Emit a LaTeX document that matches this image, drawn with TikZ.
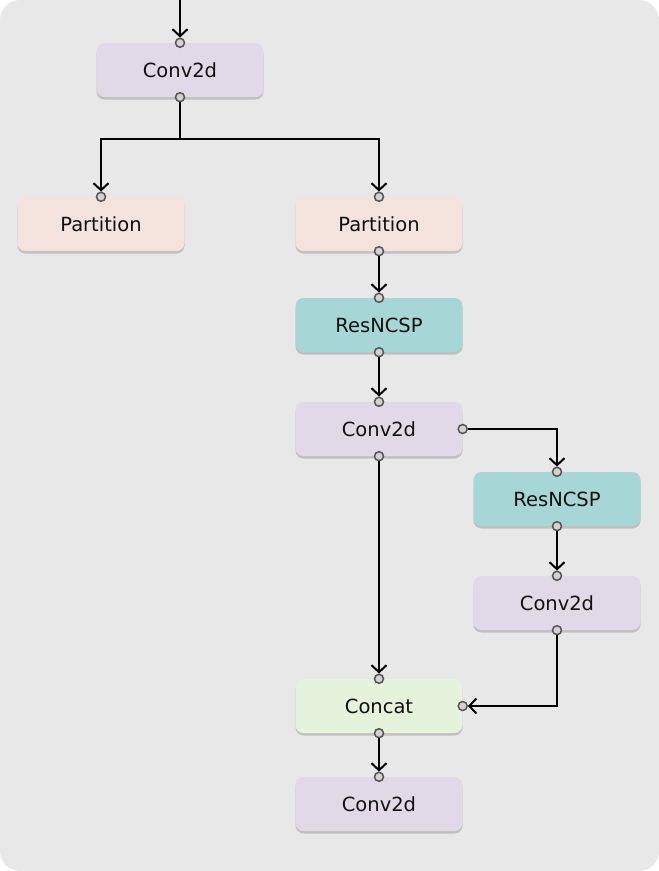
\documentclass[tikz,border=0pt]{standalone}
\usepackage{fontspec}
\setmainfont{DejaVu Sans}
\usepackage{tikz}
\usetikzlibrary{arrows.meta,calc,shadows}

\definecolor{bgpanel}{HTML}{E8E8E8}
\definecolor{convfill}{HTML}{E1D9E7}
\definecolor{partfill}{HTML}{F3E3DC}
\definecolor{resfill}{HTML}{A7D6D7}
\definecolor{catfill}{HTML}{E6F3DC}
\definecolor{portfill}{HTML}{D2D2D2}
\definecolor{portline}{HTML}{555555}
\definecolor{txt}{HTML}{111111}

\tikzset{
  block/.style={rectangle, rounded corners=8pt, minimum width=167pt, minimum height=54pt,
    text=txt, font=\fontsize{19.5}{22}\selectfont,
    drop shadow={shadow xshift=0pt, shadow yshift=-2.5pt, opacity=0.3, fill=black!60}},
  conv/.style={block, fill=convfill},
  part/.style={block, fill=partfill},
  res/.style={block, fill=resfill},
  cat/.style={block, fill=catfill},
  port/.style={circle, draw=portline, fill=portfill, line width=1.5pt, inner sep=0pt, minimum size=9pt},
  flow/.style={draw=black, line width=2pt, -{Straight Barb[length=7pt,width=15pt,line width=2pt]}}
}

\begin{document}
\begin{tikzpicture}[x=1pt,y=-1pt]
            \useasboundingbox (0,0) rectangle (659,871);
            \fill[white] (0,0) rectangle (659,871);
            \fill[bgpanel, rounded corners=20pt] (0,0) rectangle (659,871);
            % blocks
            \node[conv] (Conv0) at (180,70) {Conv2d};
            \node[part] (PartL) at (101,224) {Partition};
            \node[part] (PartR) at (379,224) {Partition};
            \node[res] (Res1) at (379,325) {ResNCSP};
            \node[conv] (Conv1) at (379,429) {Conv2d};
            \node[res] (Res2) at (557,499) {ResNCSP};
            \node[conv] (Conv2) at (557,603) {Conv2d};
            \node[cat] (Cat) at (379,706) {Concat};
            \node[conv] (Conv3) at (379,804) {Conv2d};
            % ports
            \node[port] (Conv0in) at (Conv0.north) {};
            \node[port] (Conv0out) at (Conv0.south) {};
            \node[port] (PartLin) at (PartL.north) {};
            \node[port] (PartRin) at (PartR.north) {};
            \node[port] (PartRout) at (PartR.south) {};
            \node[port] (Res1in) at (Res1.north) {};
            \node[port] (Res1out) at (Res1.south) {};
            \node[port] (Conv1in) at (Conv1.north) {};
            \node[port] (Conv1out) at (Conv1.south) {};
            \node[port] (Conv1side) at (Conv1.east) {};
            \node[port] (Res2in) at (Res2.north) {};
            \node[port] (Res2out) at (Res2.south) {};
            \node[port] (Conv2in) at (Conv2.north) {};
            \node[port] (Conv2out) at (Conv2.south) {};
            \node[port] (Catin) at (Cat.north) {};
            \node[port] (Catside) at (Cat.east) {};
            \node[port] (Catout) at (Cat.south) {};
            \node[port] (Conv3in) at (Conv3.north) {};
            % connectors
            \coordinate (src) at ($(Conv0in)+(0,-50)$);
            \coordinate (split) at ($(Conv0out)+(0,42)$);
            \draw[flow] (src) -- (Conv0in);
            \draw[line width=2pt] (Conv0out) -- (split);
            \draw[flow] (split) -| (PartLin);
            \draw[flow] (split) -| (PartRin);
            \draw[flow] (PartRout) -- (Res1in);
            \draw[flow] (Res1out) -- (Conv1in);
            \draw[flow] (Conv1side) -| (Res2in);
            \draw[flow] (Res2out) -- (Conv2in);
            \draw[flow] (Conv1out) -- (Catin);
            \draw[flow] (Conv2out) |- (Catside);
            \draw[flow] (Catout) -- (Conv3in);
\end{tikzpicture}
\end{document}
